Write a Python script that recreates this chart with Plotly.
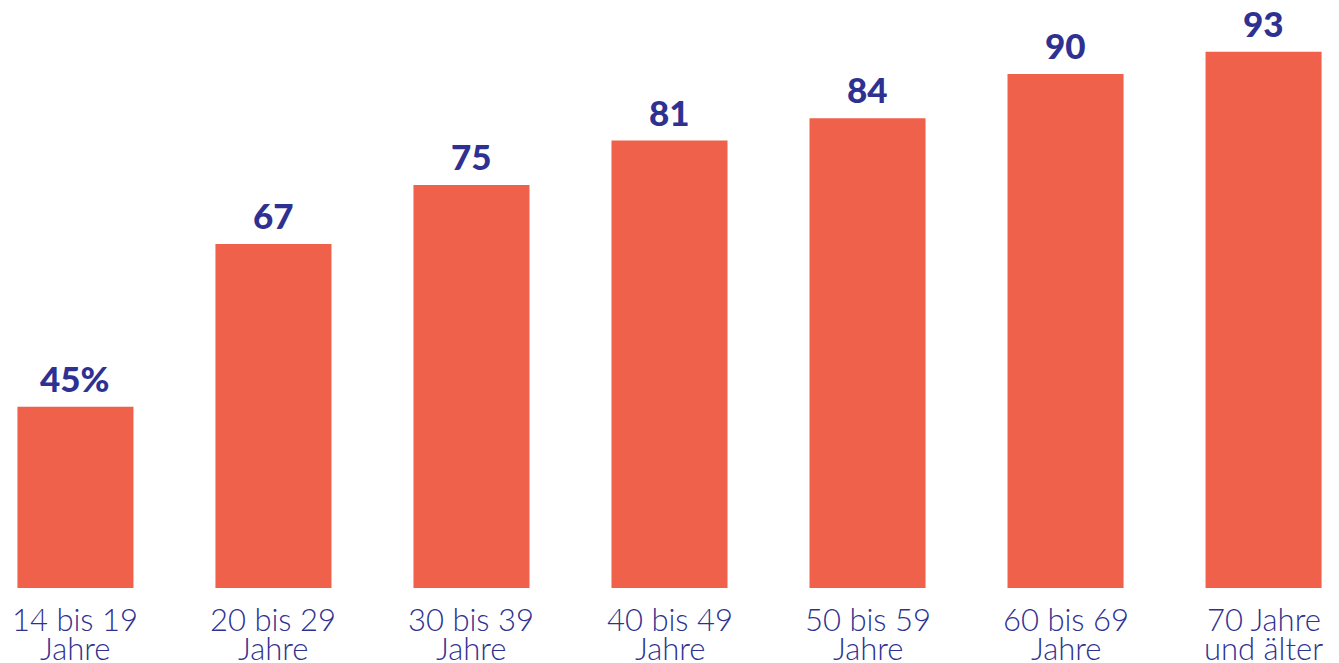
import plotly.graph_objects as go

categories = ["14 bis 19 Jahre", "20 bis 29 Jahre", "30 bis 39 Jahre", "40 bis 49 Jahre",
              "50 bis 59 Jahre", "60 bis 69 Jahre", "70 Jahre und älter"]
label_line1 = ["14 bis 19", "20 bis 29", "30 bis 39", "40 bis 49", "50 bis 59", "60 bis 69", "70 Jahre"]
label_line2 = ["Jahre", "Jahre", "Jahre", "Jahre", "Jahre", "Jahre", "und älter"]
values = [45, 67, 75, 81, 84, 90, 93]
value_text = [f"{v}%" if i == 0 else str(v) for i, v in enumerate(values)]

BAR = "#EF614A"
TXT = "#2E3191"

fig = go.Figure(go.Bar(
    x=categories, y=values,
    marker=dict(color=BAR, line=dict(width=0)),
    hoverinfo="skip",
))

annotations = []
for c, v, t in zip(categories, values, value_text):
    annotations.append(dict(x=c, xref="x", y=v, yref="y", text=t, showarrow=False,
                            yanchor="bottom", yshift=6,
                            font=dict(family="Lato", size=35, color=TXT, weight=900)))
for c, l1, l2 in zip(categories, label_line1, label_line2):
    annotations.append(dict(x=c, xref="x", y=0, yref="paper", text=l1, showarrow=False,
                            yanchor="top", yshift=-10,
                            font=dict(family="Lato", size=31, color=TXT, weight=300)))
    annotations.append(dict(x=c, xref="x", y=0, yref="paper", text=l2, showarrow=False,
                            yanchor="top", yshift=-39,
                            font=dict(family="Lato", size=31, color=TXT, weight=300)))

fig.update_layout(
    width=1339, height=663,
    margin=dict(l=0, r=0, t=0, b=75),
    paper_bgcolor="white", plot_bgcolor="white",
    bargap=0.414,
    showlegend=False,
    annotations=annotations,
    xaxis=dict(range=[-0.381, 6.381], showticklabels=False, showgrid=False, zeroline=False,
               showline=False, ticks=""),
    yaxis=dict(range=[20.5, 100], visible=False, showgrid=False, zeroline=False),
)

fig.write_html("out.html")
